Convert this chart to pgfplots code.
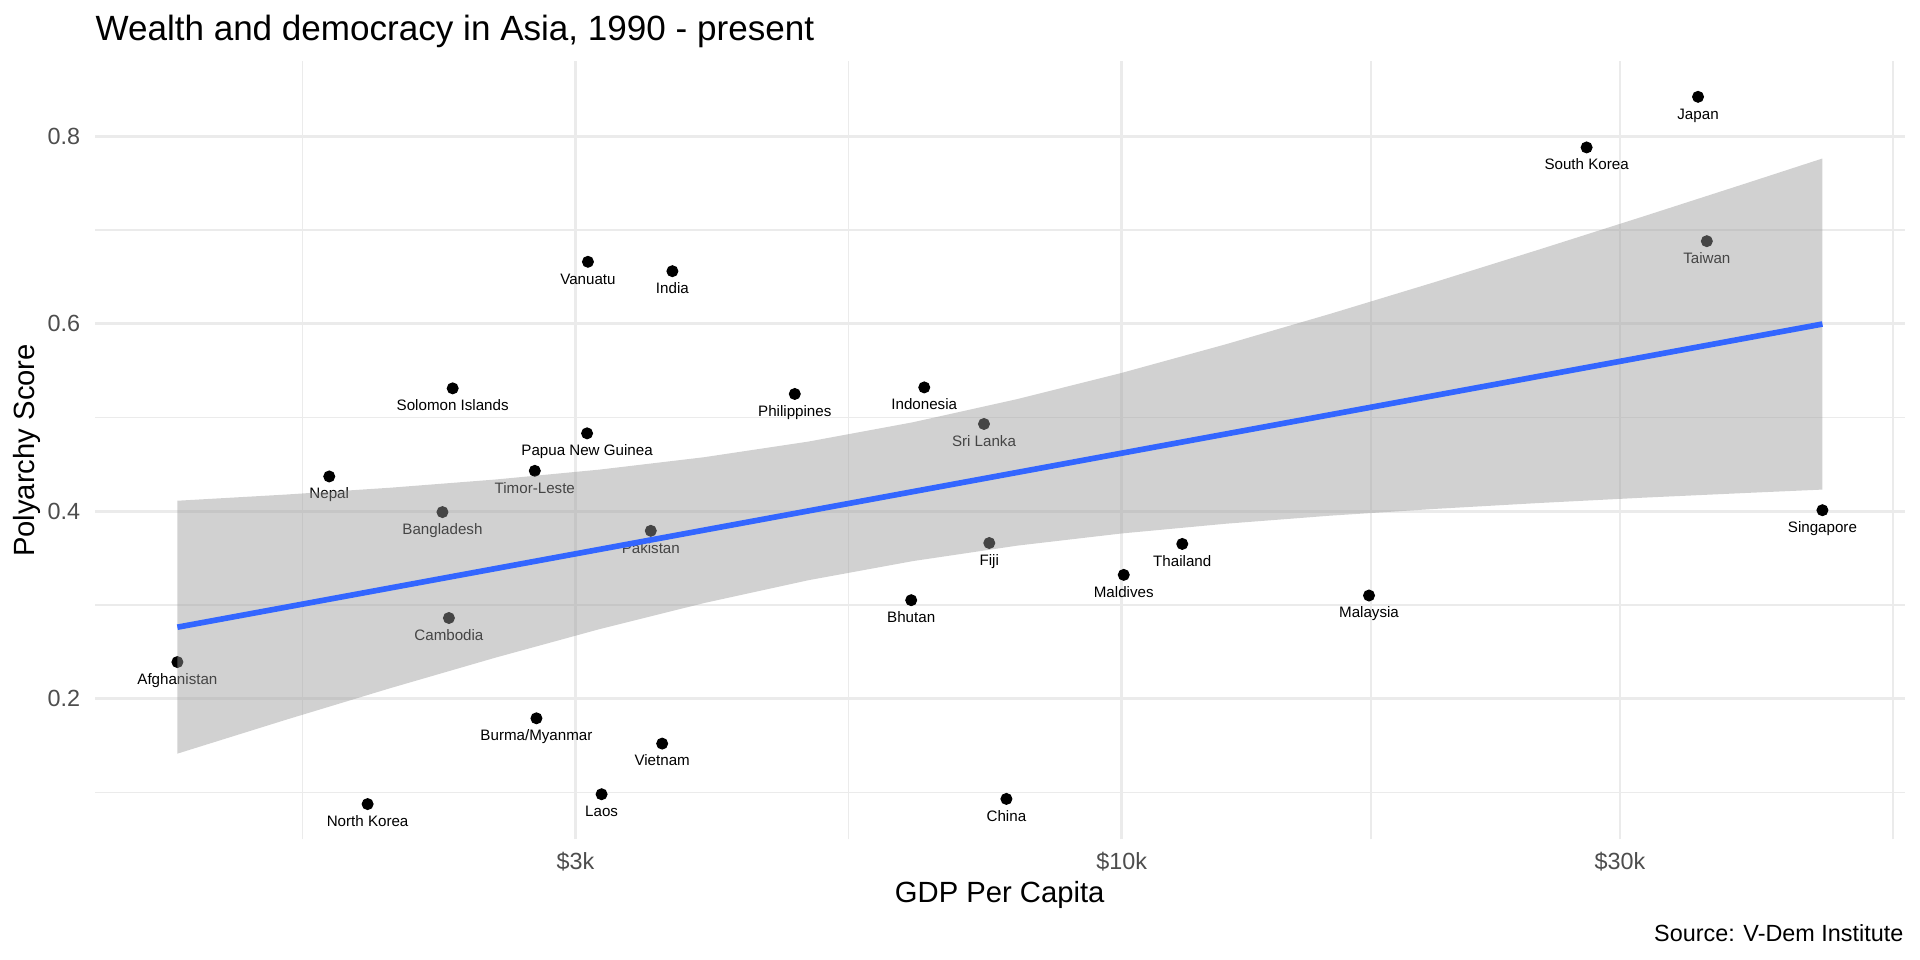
\documentclass[border=0pt]{standalone}
\usepackage{fontspec}
\setmainfont{Liberation Sans}
\usepackage{pgfplots}
\usepackage{pgfplotstable}
\pgfplotsset{compat=1.18}
\definecolor{gridc}{HTML}{EBEBEB}
\definecolor{tickc}{HTML}{4D4D4D}
\definecolor{fitblue}{HTML}{3366FF}
\definecolor{ribbonc}{HTML}{999999}

\pgfplotstableread[col sep=comma]{
label,gdp,score
Afghanistan,1247,0.239
Nepal,1743,0.437
North Korea,1897,0.0875
Bangladesh,2237,0.399
Cambodia,2269,0.286
Solomon Islands,2288,0.531
Timor-Leste,2742,0.443
Burma/Myanmar,2752,0.179
Papua New Guinea,3077,0.483
Vanuatu,3083,0.666
Laos,3177,0.098
Pakistan,3541,0.379
Vietnam,3631,0.152
India,3714,0.656
Philippines,4864,0.525
Bhutan,6287,0.305
Indonesia,6471,0.532
Sri Lanka,7382,0.493
Fiji,7469,0.366
China,7757,0.093
Maldives,10045,0.332
Thailand,11428,0.365
Malaysia,17250,0.310
South Korea,27870,0.788
Japan,35630,0.842
Taiwan,36330,0.688
Singapore,46870,0.401
}\countries

\begin{document}
\begin{tikzpicture}
\path[use as bounding box] (0,0) rectangle (722.7pt,361.35pt);
\begin{axis}[
  clip marker paths=true,
  at={(35.76pt,45.39pt)}, anchor=south west,
  scale only axis, width=681.12pt, height=292.81pt,
  xmode=log, xmin=1040, xmax=56180, ymin=0.0498, ymax=0.8797,
  axis line style={draw=none}, tick style={draw=none},
  major tick length=0pt, minor tick length=0pt,
  xtick={3000,10000,30000}, xticklabels={\$3k,\$10k,\$30k},
  minor xtick={1643,5477,17321,54772},
  ytick={0.2,0.4,0.6,0.8}, yticklabels={0.2,0.4,0.6,0.8},
  minor ytick={0.1,0.3,0.5,0.7},
  grid=both,
  major grid style={gridc, line width=1.07pt},
  minor grid style={gridc, line width=0.53pt},
  xticklabel style={font=\fontsize{8.8}{10}\selectfont, text=tickc, anchor=base, inner sep=0pt, yshift=-11.5pt},
  yticklabel style={font=\fontsize{8.8}{10}\selectfont, text=tickc, anchor=east, inner sep=0pt, xshift=-5.4pt},
]
\addplot[only marks, mark=*, mark size=2.05pt, mark options={draw=black, fill=black},
  nodes near coords, point meta=explicit symbolic,
  every node near coord/.append style={anchor=base, yshift=-8.4pt, inner sep=0pt, font=\fontsize{5.7}{6}\selectfont, text=black}]
  table[x=gdp, y=score, meta=label]{\countries};
\addplot[draw=none, fill=ribbonc, fill opacity=0.45] coordinates {
(1247,0.4111) (1585,0.4177) (1995,0.4250) (2512,0.4337) (3162,0.4443) (3981,0.4575)
(5012,0.4742) (6310,0.4948) (7943,0.5195) (10000,0.5475) (12589,0.5781) (15849,0.6106)
(19953,0.6444) (25119,0.6792) (31623,0.7146) (39811,0.7505) (46870,0.7762)
(46870,0.4230) (39811,0.4195) (31623,0.4144) (25119,0.4087) (19953,0.4024) (15849,0.3952)
(12589,0.3866) (10000,0.3762) (7943,0.3632) (6310,0.3467) (5012,0.3263) (3981,0.3019)
(3162,0.2741) (2512,0.2436) (1995,0.2112) (1585,0.1775) (1247,0.1413)
};
\addplot[color=fitblue, line width=2.13pt] coordinates {(1247,0.2762) (46870,0.5996)};
\end{axis}
\node[anchor=base west, font=\fontsize{13.2}{15}\selectfont, inner sep=0pt] at (35.76pt,345.92pt) {Wealth and democracy in Asia, 1990 - present};
\node[anchor=base, font=\fontsize{11}{13}\selectfont, inner sep=0pt] at (376.3pt,21.46pt) {GDP Per Capita};
\node[anchor=base, rotate=90, font=\fontsize{11}{13}\selectfont, inner sep=0pt] at (13.17pt,191.78pt) {Polyarchy Score};
\node[anchor=base east, font=\fontsize{8.8}{10}\selectfont, inner sep=0pt] at (716.6pt,7.15pt) {Source: V-Dem Institute};
\end{tikzpicture}
\end{document}
